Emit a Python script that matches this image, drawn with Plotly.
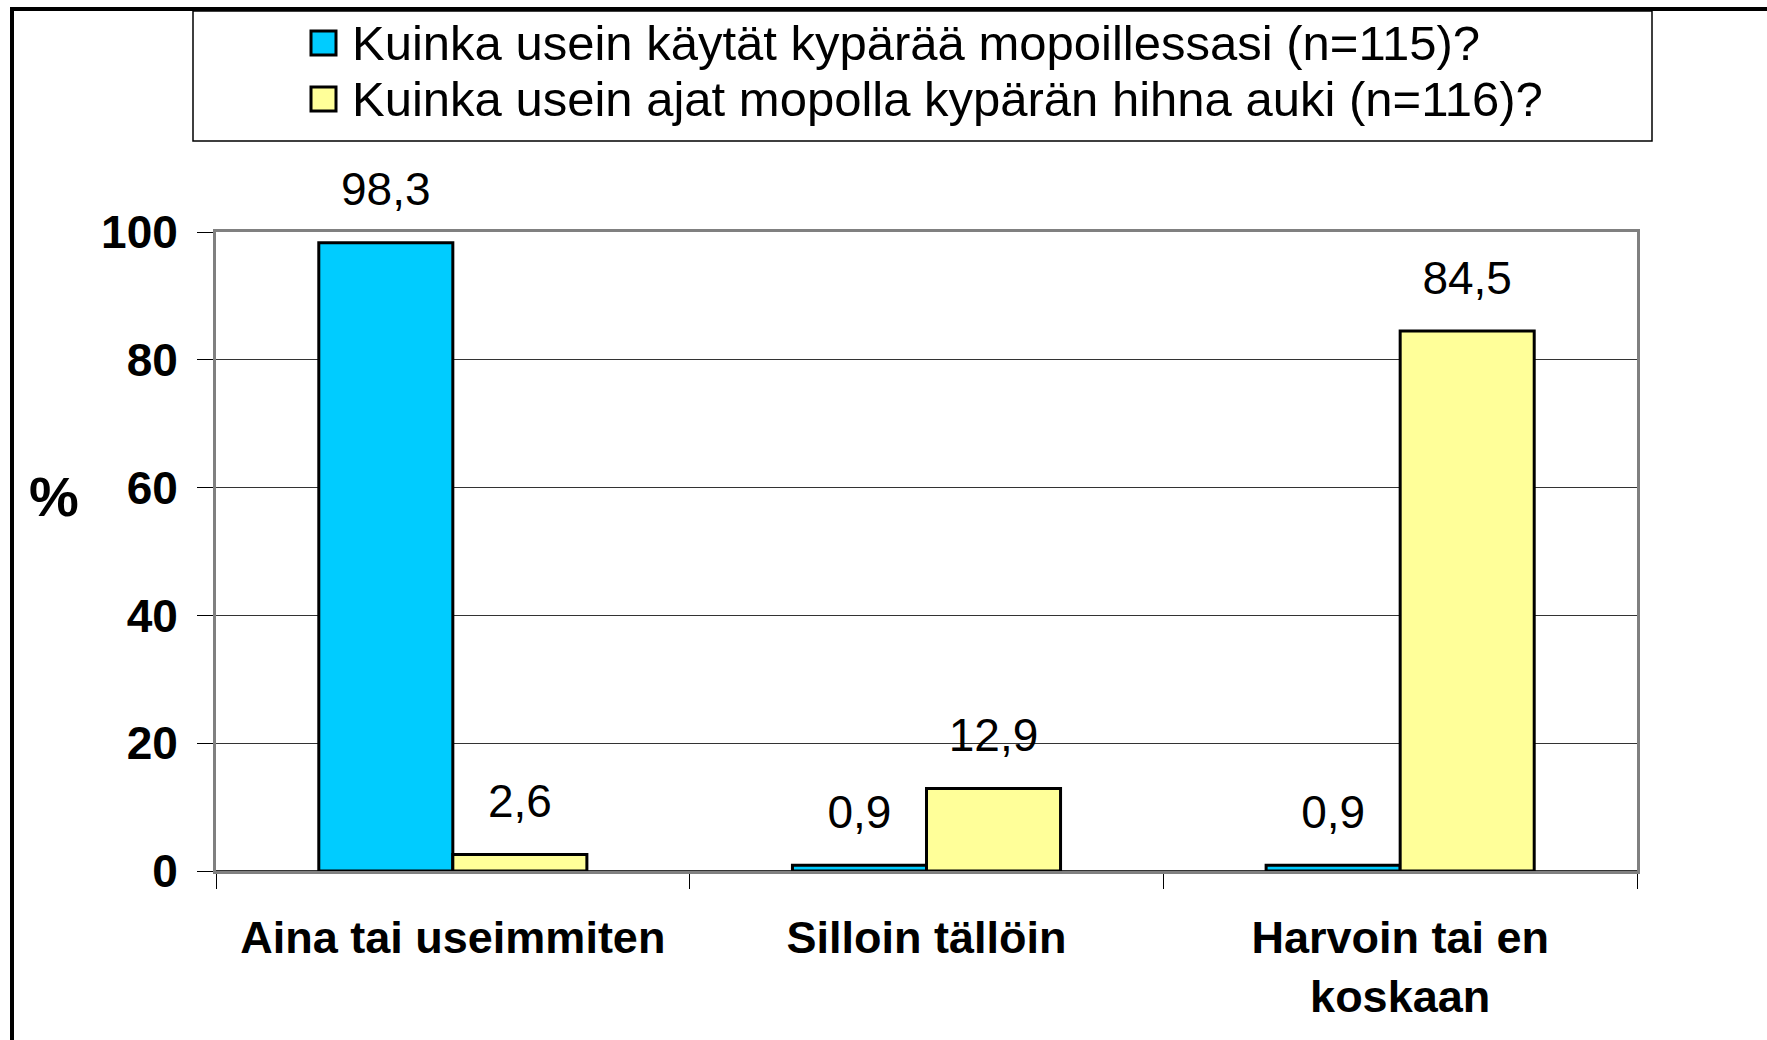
import plotly.graph_objects as go

categories = ["Aina tai useimmiten", "Silloin tällöin", "Harvoin tai en<br>koskaan"]
series_names = [
    "Kuinka usein käytät kypärää mopoillessasi (n=115)?",
    "Kuinka usein ajat mopolla kypärän hihna auki (n=116)?",
]
helmet_use = [98.3, 0.9, 0.9]
strap_open = [2.6, 12.9, 84.5]
series_values = [helmet_use, strap_open]
series_colors = ["#00CCFF", "#FFFF99"]
y_ticks = [0, 20, 40, 60, 80, 100]

W, H = 1767, 1040
L, R, T, B = 216, 130, 232, 169
PW, PH = W - L - R, H - T - B


def px(x):
    return (x - L) / PW


def py(y):
    return (H - B - y) / PH


FONT = "Liberation Sans, Arial, sans-serif"

fig = go.Figure()
for i, (name, vals, col) in enumerate(zip(series_names, series_values, series_colors)):
    fig.add_trace(go.Bar(
        x=categories, y=vals, name=name, offsetgroup=str(i),
        marker=dict(color=col, line=dict(color="black", width=3)),
        showlegend=False, hoverinfo="skip",
    ))
for i, vals in enumerate(series_values):
    fig.add_trace(go.Scatter(
        x=categories, y=vals, mode="markers+text", offsetgroup=str(i),
        text=[f"{v:.1f}".replace(".", ",") for v in vals],
        textposition="top center",
        textfont=dict(family=FONT, size=46, color="black"),
        marker=dict(size=40, opacity=0),
        cliponaxis=False,
        showlegend=False, hoverinfo="skip",
    ))

shapes = []
# outer frame (left and top)
shapes.append(dict(type="line", xref="paper", yref="paper", x0=px(12), x1=px(12),
                   y0=py(7), y1=py(H + 5), line=dict(color="black", width=4)))
shapes.append(dict(type="line", xref="paper", yref="paper", x0=px(10), x1=px(W + 5),
                   y0=py(9), y1=py(9), line=dict(color="black", width=4)))
# legend box
shapes.append(dict(type="rect", xref="paper", yref="paper", x0=px(193), x1=px(1652),
                   y0=py(141), y1=py(11), line=dict(color="black", width=1.5)))
annotations = []
row_y = [43, 99]
for name, col, yy in zip(series_names, series_colors, row_y):
    shapes.append(dict(type="rect", xref="paper", yref="paper", x0=px(311), x1=px(336),
                       y0=py(yy + 12), y1=py(yy - 12), fillcolor=col,
                       line=dict(color="black", width=3)))
    annotations.append(dict(text=name, xref="paper", yref="paper", x=px(350), y=py(yy),
                            xanchor="left", yanchor="middle", showarrow=False,
                            font=dict(family=FONT, size=49, color="black")))
annotations.append(dict(text="<b>%</b>", xref="paper", yref="paper", x=px(54), y=py(496),
                        xanchor="center", yanchor="middle", showarrow=False,
                        font=dict(family=FONT, size=56, color="black")))

fig.update_layout(
    width=W, height=H,
    margin=dict(l=L, r=R, t=T, b=B, pad=0),
    paper_bgcolor="white", plot_bgcolor="white",
    barmode="group", bargap=0.434, bargroupgap=0,
    scattermode="group",
    shapes=shapes, annotations=annotations,
    showlegend=False,
    font=dict(family=FONT, color="black"),
)
fig.update_yaxes(
    range=[0, 100], tickvals=y_ticks, ticktext=[f"<b>{v}</b>" for v in y_ticks],
    tickfont=dict(family=FONT, size=46, color="black"),
    showgrid=True, gridcolor="#333333", gridwidth=1,
    showline=True, linecolor="#808080", linewidth=3, mirror=True,
    ticks="outside", ticklen=16, tickcolor="black", tickwidth=1,
    ticklabelstandoff=10,
    zeroline=True, zerolinecolor="#333333", zerolinewidth=2,
)
fig.update_xaxes(
    tickvals=categories, ticktext=[f"<b>{c}</b>" for c in categories],
    tickfont=dict(family=FONT, size=45, color="black"),
    showline=True, linecolor="#808080", linewidth=3, mirror=True,
    ticks="outside", tickson="boundaries", ticklen=15, tickcolor="black", tickwidth=1,
    ticklabelstandoff=25,
)
fig.write_html("out.html", config={"displayModeBar": False},
               post_script="document.body.style.margin='0';")
